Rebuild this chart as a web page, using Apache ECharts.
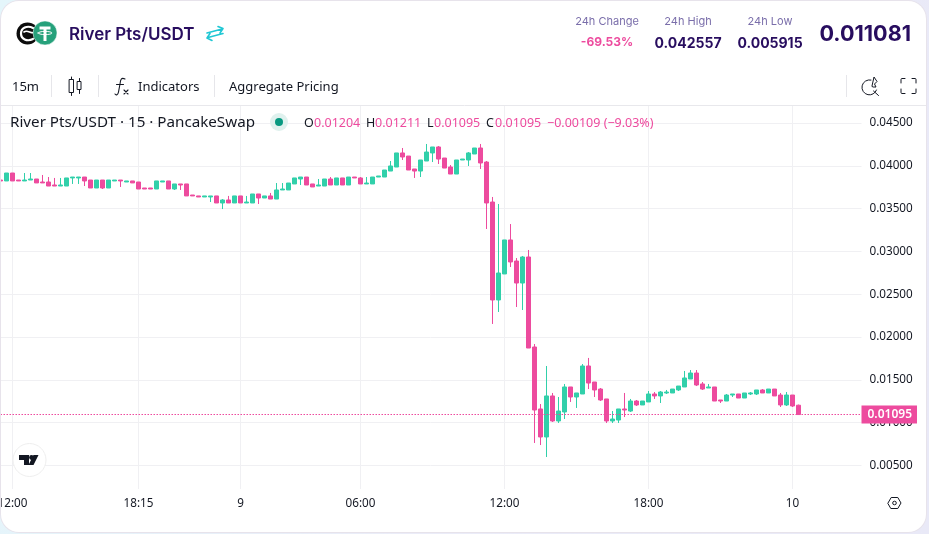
<!DOCTYPE html>
<html><head><meta charset="utf-8">
<script src="https://cdn.jsdelivr.net/npm/echarts@6/dist/echarts.min.js"></script>
<style>
html,body{margin:0;padding:0;width:929px;height:534px;overflow:hidden;background:linear-gradient(100deg,#e4f6fb 0%,#ebecf8 50%,#e9e9f7 100%);}
#card{position:absolute;left:1px;top:1px;width:925px;height:531px;background:#fff;border-radius:18px;overflow:hidden;box-shadow:0 0 0 1px #e7e3eb;}
#main{position:absolute;left:-1px;top:-1px;width:929px;height:534px;}
</style></head><body>
<div id="card"><div id="main"></div></div>
<script>
const tickLabels = [[2,'12:00'],[23,'18:15'],[40,'9'],[60,'06:00'],[84,'12:00'],[108,'18:00'],[132,'10']];
const yTicks = [0.005,0.01,0.015,0.02,0.025,0.03,0.035,0.04,0.045];
const opens = [.03834,.03823,.03916,.03834,.03823,.03834,.03846,.03811,.03811,.03776,
.03764,.03764,.03858,.03858,.03869,.03834,.03741,.03834,.03741,.03823,
.03834,.03811,.03823,.03811,.03741,.03741,.03729,.03811,.03823,.03729,
.03788,.03788,.03659,.03648,.03636,.03636,.03648,.03566,.03601,.03566,
.03648,.03566,.03566,.03671,.03624,.03648,.03612,.03718,.03718,.03788,
.03846,.03869,.03788,.03764,.03764,.03846,.03776,.03858,.03776,.03869,
.03858,.03788,.03788,.03869,.03869,.03939,.03986,.04150,.04114,.03963,
.03939,.04056,.04150,.04220,.04091,.03986,.03904,.04068,.04068,.04138,
.04208,.04044,.03577,.02433,.02737,.03134,.02888,.02631,.02935,.01884,
.01160,.00833,.01312,.01020,.01125,.01417,.01300,.01335,.01662,.01475,
.01393,.01277,.01020,.01031,.01160,.01136,.01253,.01207,.01242,.01335,
.01312,.01347,.01347,.01382,.01417,.01510,.01580,.01452,.01405,.01417,
.01265,.01253,.01323,.01335,.01288,.01335,.01335,.01382,.01347,.01393,
.01323,.01207,.01323,.01204];
const closes = [.03823,.03916,.03823,.03823,.03834,.03846,.03800,.03800,.03764,.03764,
.03776,.03858,.03869,.03869,.03823,.03741,.03834,.03741,.03834,.03834,
.03823,.03823,.03800,.03729,.03729,.03729,.03823,.03823,.03729,.03788,
.03776,.03648,.03648,.03636,.03648,.03648,.03566,.03601,.03566,.03648,
.03566,.03577,.03671,.03624,.03648,.03612,.03718,.03729,.03799,.03858,
.03869,.03776,.03753,.03776,.03846,.03776,.03858,.03776,.03869,.03858,
.03788,.03799,.03869,.03881,.03951,.03998,.04150,.04103,.03951,.03939,
.04068,.04161,.04220,.04079,.03974,.03904,.04068,.04079,.04150,.04208,
.04033,.03566,.02433,.02748,.03134,.02877,.02631,.02935,.01872,.01148,
.00833,.01312,.01020,.01136,.01417,.01300,.01347,.01662,.01463,.01382,
.01265,.01020,.01043,.01160,.01148,.01253,.01207,.01253,.01335,.01312,
.01358,.01358,.01393,.01428,.01522,.01580,.01440,.01393,.01417,.01253,
.01253,.01323,.01335,.01288,.01347,.01347,.01382,.01347,.01393,.01312,
.01207,.01323,.01195,.01095];
const lows = [.03823,.03823,.03823,.03823,.03823,.03834,.03800,.03800,.03764,.03764,
.03764,.03764,.03788,.03788,.03764,.03741,.03741,.03729,.03741,.03823,
.03753,.03811,.03800,.03729,.03729,.03729,.03729,.03811,.03729,.03718,
.03718,.03648,.03648,.03636,.03636,.03577,.03566,.03495,.03566,.03566,
.03566,.03566,.03566,.03554,.03624,.03612,.03612,.03718,.03718,.03788,
.03776,.03776,.03753,.03764,.03764,.03776,.03776,.03776,.03776,.03858,
.03788,.03788,.03788,.03869,.03869,.03939,.03986,.04068,.03951,.03858,
.03869,.04056,.04044,.04021,.03974,.03904,.03904,.04068,.03998,.04138,
.03963,.03262,.02153,.02293,.02737,.02818,.02351,.02316,.01872,.00763,
.00739,.00599,.01008,.00996,.01043,.01242,.01172,.01335,.01393,.01300,
.01253,.00996,.00996,.00996,.01066,.01125,.01195,.01207,.01242,.01277,
.01230,.01335,.01347,.01370,.01417,.01510,.01428,.01382,.01405,.01253,
.01230,.01253,.01300,.01288,.01288,.01323,.01323,.01347,.01347,.01312,
.01183,.01195,.01183,.01095];
const highs = [.03834,.03916,.03916,.03834,.03916,.03916,.03846,.03893,.03869,.03858,
.03858,.03858,.03869,.03869,.03869,.03834,.03834,.03834,.03834,.03834,
.03834,.03823,.03823,.03811,.03741,.03741,.03823,.03823,.03823,.03788,
.03788,.03788,.03659,.03648,.03648,.03648,.03648,.03612,.03648,.03648,
.03648,.03648,.03671,.03671,.03648,.03683,.03799,.03799,.03799,.03858,
.03869,.03869,.03788,.03846,.03846,.03869,.03858,.03858,.03869,.03869,
.03869,.03869,.03869,.03881,.03951,.04056,.04150,.04208,.04114,.03963,
.04068,.04255,.04220,.04231,.04091,.04009,.04068,.04079,.04161,.04208,
.04255,.04056,.03636,.03554,.03134,.03320,.02923,.02947,.03017,.01919,
.01218,.01662,.01347,.01300,.01452,.01417,.01347,.01685,.01756,.01475,
.01405,.01277,.01136,.01160,.01347,.01277,.01265,.01253,.01370,.01358,
.01370,.01382,.01393,.01428,.01604,.01615,.01615,.01475,.01452,.01417,
.01265,.01335,.01335,.01335,.01347,.01358,.01382,.01393,.01393,.01393,
.01347,.01358,.01323,.01211];

const UP = '#31D0AA', DOWN = '#ED4B9E', NAVY = '#280D5F', MUTE = '#7A6EAA', INK = '#131722', RULE = '#f0f0f3';
const BANDS = 144;
const categories = new Array(BANDS).fill('');
tickLabels.forEach(([i, t]) => { categories[i] = t; });
const candles = opens.map((o, i) => [o, closes[i], lows[i], highs[i]]);
const lastClose = closes[closes.length - 1];

const SANS = '"Noto Sans","Open Sans",sans-serif';
const HEAD = 'Inter,Roboto,sans-serif';
function txt(text, x, y, font, fill, align) {
  return {type:'text', x, y, z:10, silent:true, style:{text, font, fill, textAlign:align||'left', textVerticalAlign:'middle', verticalAlign:'middle'}};
}
function sep(x, y1, y2) {
  return {type:'line', z:10, silent:true, shape:{x1:x, y1, x2:x, y2}, style:{stroke:'#e6e6ea', lineWidth:1}};
}
let pathCount = 0;
function path(d, stroke, fill, w) {
  const name = 'iconPath' + (pathCount++);
  echarts.graphic.registerShape(name, echarts.graphic.extendPath(d, {}));
  return {type:name, z:10, silent:true, style:{stroke:stroke||null, fill:fill||null, lineWidth:w||1, lineCap:'round', lineJoin:'round'}};
}
const gfx = [
  // header tokens
  {type:'circle', z:10, shape:{cx:27.5, cy:33.5, r:11}, style:{fill:'#0c0c0c'}},
  path('M33 28 C27 25 21 28 21 33.5 C21 39 27 42 33 39', '#fff', null, 2.2),
  path('M24 32 C28 29 31 35 36 32', '#fff', null, 1.6),
  {type:'circle', z:11, shape:{cx:45, cy:33, r:12}, style:{fill:'#26A17B', stroke:'#fff', lineWidth:0.5}},
  {type:'rect', z:12, shape:{x:39.5, y:26.5, width:11, height:3}, style:{fill:'#fff'}},
  {type:'rect', z:12, shape:{x:43.5, y:28, width:3, height:13}, style:{fill:'#fff'}},
  Object.assign(path('M38 33 A7 1.6 0 1 0 52 33 A7 1.6 0 1 0 38 33 Z', '#fff', null, 1), {z:12}),
  txt('River Pts/USDT', 69, 35, '600 17px '+HEAD, NAVY),
  path('M207 33 L222 29 M218 26.5 L223 28.6 L220 33 M223 33.5 L208 37.5 M212 40.5 L207 38 L210 33.5', '#1FC7D4', null, 1.6),
  txt('24h Change', 607, 22, '400 11px '+HEAD, MUTE, 'center'),
  txt('-69.53%', 607, 42, '700 12px '+HEAD, DOWN, 'center'),
  txt('24h High', 688, 22, '400 11px '+HEAD, MUTE, 'center'),
  txt('0.042557', 688, 44, '700 14px '+HEAD, NAVY, 'center'),
  txt('24h Low', 770, 22, '400 11px '+HEAD, MUTE, 'center'),
  txt('0.005915', 770, 44, '700 14px '+HEAD, NAVY, 'center'),
  txt('0.011081', 911, 34, '700 21.6px '+HEAD, NAVY, 'right'),
  // toolbar
  txt('15m', 12, 87, '400 13px '+SANS, INK),
  sep(51.5,75,97), sep(98.5,75,97), sep(214.5,75,97), sep(846.5,75,97),
  {type:'line', z:10, shape:{x1:0,y1:105.5,x2:929,y2:105.5}, style:{stroke:'#e8e8ec', lineWidth:1}},
  path('M69.5 79.5 h4 v13 h-4 z M71.5 77 v2.5 M71.5 92.5 v3 M77.5 81.5 h3.5 v8 h-3.5 z M79.5 78.5 v3 M79.5 89.5 v4', INK, null, 1),
  path('M125 79 C121 77 120.5 80 120 84 L118.5 92 C118 95 116 95.5 115 94 M116.5 84.5 H123.5', INK, null, 1.1),
  path('M124 90 L128 94 M128 90 L124 94', INK, null, 1.1),
  txt('Indicators', 138, 87, '400 13px '+SANS, INK),
  txt('Aggregate Pricing', 229, 87, '400 13px '+SANS, INK),
  path('M871 80 A7.5 7.5 0 1 0 876.5 90 M873.5 91 L878.5 95.5 M872 86 L874 77 L877 81.5 L874.5 84 L876 87 L873.5 87 Z', INK, null, 1),
  path('M901 83 V79.5 Q901 78.5 902 78.5 H905 M912 78.5 H915 Q916 78.5 916 79.5 V83 M916 89 V92.5 Q916 93.5 915 93.5 H912 M905 93.5 H902 Q901 93.5 901 92.5 V89', INK, null, 1),
  // legend
  txt('River Pts/USDT \u00b7 15 \u00b7 PancakeSwap', 10, 123, '400 15.2px '+SANS, INK),
  {type:'circle', z:10, shape:{cx:279, cy:122, r:9}, style:{fill:'#dff1ee'}},
  {type:'circle', z:11, shape:{cx:279, cy:122, r:4}, style:{fill:'#089981'}},
  txt('O', 304, 123, '400 12.5px '+SANS, INK), txt('0.01204', 314, 123, '400 12.5px '+SANS, DOWN),
  txt('H', 366, 123, '400 12.5px '+SANS, INK), txt('0.01211', 375, 123, '400 12.5px '+SANS, DOWN),
  txt('L', 427, 123, '400 12.5px '+SANS, INK), txt('0.01095', 434, 123, '400 12.5px '+SANS, DOWN),
  txt('C', 486, 123, '400 12.5px '+SANS, INK), txt('0.01095', 495, 123, '400 12.5px '+SANS, DOWN),
  txt('\u22120.00109 (\u22129.03%)', 547, 123, '400 12.5px '+SANS, DOWN),
  // TradingView badge
  {type:'circle', z:10, shape:{cx:29.5, cy:460, r:16.5}, style:{fill:'#fff', stroke:'#eeeeee', lineWidth:1}},
  path('M19 455 H29 V465 H24 V460 H19 Z M38.5 455 L33.5 465 H28.5 L33.5 455 Z', null, '#131722'),
  {type:'circle', z:11, shape:{cx:31.5, cy:457.5, r:2.4}, style:{fill:'#131722'}},
  // settings
  path('M888 503 L891.2 497.5 H897.8 L901 503 L897.8 508.5 H891.2 Z', INK, null, 1),
  {type:'circle', z:11, shape:{cx:894.5, cy:503, r:1.8}, style:{fill:null, stroke:INK, lineWidth:1}}
];

const chart = echarts.init(document.getElementById('main'), null, {renderer:'canvas', width:929, height:534});
chart.setOption({
  animation:false,
  backgroundColor:'transparent',
  graphic:{elements:gfx},
  grid:{left:-2.5, top:106, width:864, height:383, containLabel:false, outerBoundsMode:'none'},
  xAxis:{
    type:'category', data:categories, boundaryGap:true,
    axisLine:{show:false}, axisTick:{show:false},
    axisLabel:{interval:(i,v)=>v!=='', color:INK, fontFamily:SANS, fontSize:11.7, margin:9, hideOverlap:false},
    splitLine:{show:true, alignWithLabel:true, interval:(i,v)=>v!=='', lineStyle:{color:RULE, width:1}}
  },
  yAxis:{
    type:'value', position:'right', scale:false, min:0.002255, max:0.046985,
    axisLine:{show:false},
    axisTick:{show:false, customValues:yTicks},
    axisLabel:{customValues:yTicks, color:INK, fontFamily:SANS, fontSize:11.7, margin:8, padding:[4,0,0,0], formatter:v=>v.toFixed(5)},
    splitLine:{show:true, lineStyle:{color:RULE, width:1}}
  },
  series:[{
    type:'candlestick', data:candles, barWidth:4, clip:false,
    itemStyle:{color:UP, color0:DOWN, borderColor:UP, borderColor0:DOWN, borderWidth:1},
    markLine:{
      silent:true, symbol:'none', animation:false, precision:5,
      lineStyle:{color:DOWN, type:[1.5,1.5], width:1.2},
      label:{show:true, position:'end', distance:0, formatter:()=>lastClose.toFixed(5), color:'#fff', backgroundColor:DOWN,
             fontFamily:SANS, fontSize:12, fontWeight:600, padding:[4,5,2,6]},
      data:[{yAxis:lastClose}]
    }
  }]
});
</script></body></html>
